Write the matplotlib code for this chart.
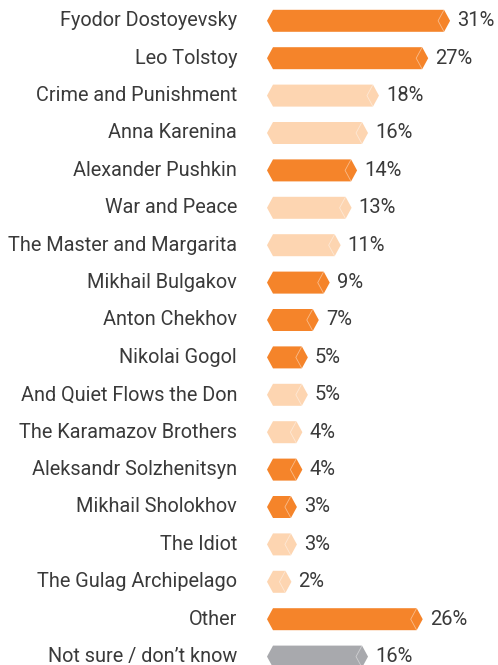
import matplotlib
matplotlib.use("Agg")
import matplotlib.pyplot as plt
from matplotlib.patches import Polygon

# data
labels = [
    "Fyodor Dostoyevsky", "Leo Tolstoy", "Crime and Punishment", "Anna Karenina",
    "Alexander Pushkin", "War and Peace", "The Master and Margarita", "Mikhail Bulgakov",
    "Anton Chekhov", "Nikolai Gogol", "And Quiet Flows the Don", "The Karamazov Brothers",
    "Aleksandr Solzhenitsyn", "Mikhail Sholokhov", "The Idiot", "The Gulag Archipelago",
    "Other", "Not sure / don\u2019t know",
]
values = [31, 27, 18, 16, 14, 13, 11, 9, 7, 5, 5, 4, 4, 3, 3, 2, 26, 16]
# kind: author / work / unsure
kinds = ["author", "author", "work", "work", "author", "work", "work", "author",
         "author", "author", "work", "work", "author", "author", "work", "work",
         "author", "unsure"]

colors = {"author": "#F5842A", "work": "#FDD5B1", "unsure": "#A8A9AD"}

plt.rcParams["font.family"] = ["Roboto", "DejaVu Sans"]

fig = plt.figure(figsize=(4.98, 6.65), dpi=100)
# axes from x=267px to the right edge; 5.47 px per percent
px_per_pct = 5.47
ax = fig.add_axes([267 / 498, 0, 231 / 498, 1])
x0 = -13.5 / px_per_pct
ax.set_xlim(x0, x0 + 231 / px_per_pct)
row_px = 37.4
top_px = 20.8
ax.set_ylim((665 - top_px) / row_px, -top_px / row_px)
ax.axis("off")

d = 6 / px_per_pct   # tip depth
h = 11 / row_px      # half height

for i, (lab, v, k) in enumerate(zip(labels, values, kinds)):
    pts = [(x0, i), (x0 + d, i - h), (v - d, i - h), (v, i), (v - d, i + h), (x0 + d, i + h)]
    ax.add_patch(Polygon(pts, closed=True, facecolor=colors[k], edgecolor="none", clip_on=False))
    ax.plot([v - d, v - 2 * d, v - d], [i - h, i, i + h], color="white", lw=0.6, alpha=0.45,
            clip_on=False)
    ax.text(v + 7 / px_per_pct, i, f"{v}%", ha="left", va="center", fontsize=14.5,
            color="#3a3a3a")
    ax.text(x0 - 30 / px_per_pct, i, lab, ha="right", va="center", fontsize=14.3,
            color="#3a3a3a", clip_on=False)

fig.savefig("out.png", dpi=100)
